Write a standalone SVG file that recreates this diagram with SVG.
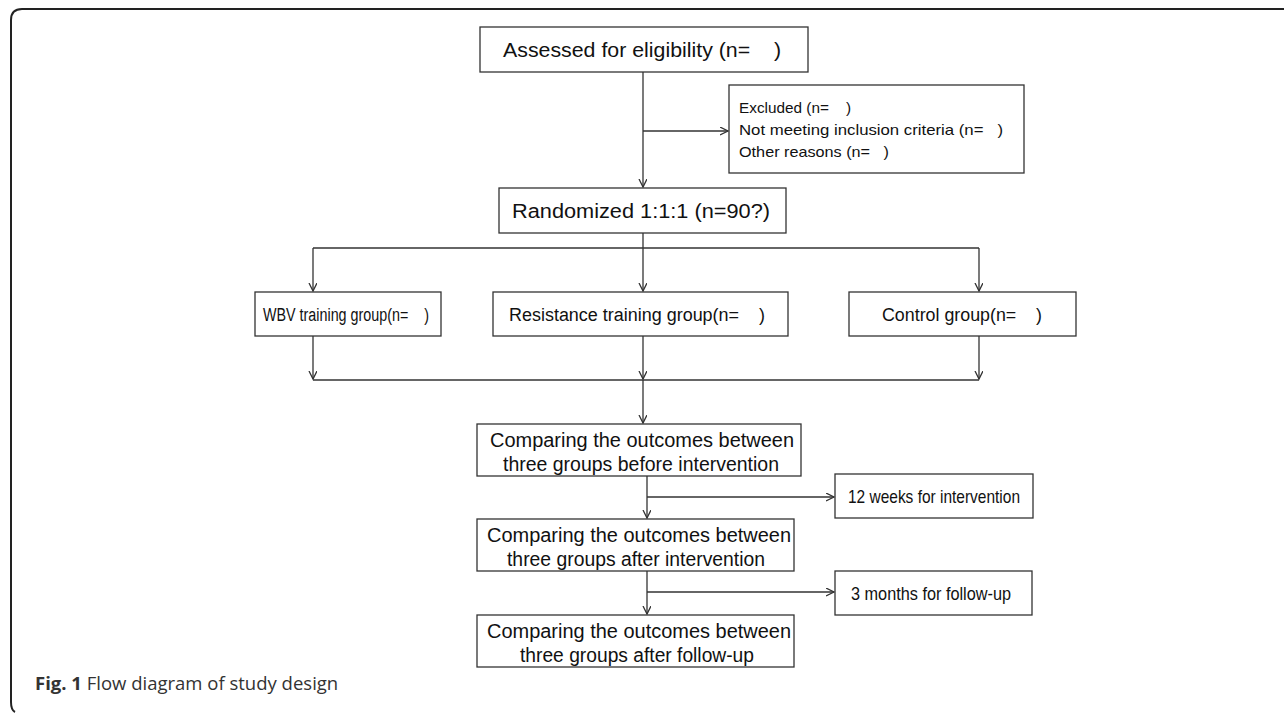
<svg xmlns="http://www.w3.org/2000/svg" width="1284" height="714" viewBox="0 0 1284 714">
<style>
.box{fill:#fff;stroke:#333;stroke-width:1.3}
.t{font-family:"Liberation Sans",Arial,sans-serif;fill:#111;text-anchor:middle}
.s{font-family:"Liberation Sans",Arial,sans-serif;fill:#111}
.c{fill:none;stroke:#333;stroke-width:1.3}
.frame{fill:none;stroke:#222;stroke-width:2}
.cap{font-family:"Open Sans","Noto Sans",sans-serif;fill:#333}
</style>
<defs>
<marker id="ah" markerWidth="10" markerHeight="10" refX="8" refY="4" orient="auto" markerUnits="userSpaceOnUse">
<path d="M0,0 L8,4 L0,8" fill="none" stroke="#333" stroke-width="1.3"/>
</marker>
</defs>
<rect width="1284" height="714" fill="#fff"/>
<path class="frame" d="M1284,9 H22 Q11,9 11,20 V702 Q11,710 15,712"/>
<g id="connectors">
<path class="c" d="M643,72 V187" marker-end="url(#ah)"/>
<path class="c" d="M643,131 H728" marker-end="url(#ah)"/>
<path class="c" d="M643,233 V291" marker-end="url(#ah)"/>
<path class="c" d="M313,248 H979"/>
<path class="c" d="M313,248 V291" marker-end="url(#ah)"/>
<path class="c" d="M979,248 V291" marker-end="url(#ah)"/>
<path class="c" d="M313,336 V379" marker-end="url(#ah)"/>
<path class="c" d="M643,336 V379" marker-end="url(#ah)"/>
<path class="c" d="M979,336 V379" marker-end="url(#ah)"/>
<path class="c" d="M313,380 H979"/>
<path class="c" d="M643,380 V423" marker-end="url(#ah)"/>
<path class="c" d="M647,476 V518" marker-end="url(#ah)"/>
<path class="c" d="M647,497 H834" marker-end="url(#ah)"/>
<path class="c" d="M647,571 V614" marker-end="url(#ah)"/>
<path class="c" d="M647,592 H834" marker-end="url(#ah)"/>
</g>
<g id="assessed">
<rect class="box" x="480" y="27" width="328" height="45"/>
<text class="t" x="642" y="57" xml:space="preserve" style="font-size:20px" textLength="278" lengthAdjust="spacingAndGlyphs">Assessed for eligibility (n=    )</text>
</g>
<g id="excluded">
<rect class="box" x="729" y="85" width="295" height="88"/>
<text class="s" x="739" y="113" xml:space="preserve" style="font-size:15px" textLength="112" lengthAdjust="spacingAndGlyphs">Excluded (n=    )</text>
<text class="s" x="739" y="135" xml:space="preserve" style="font-size:15px" textLength="264" lengthAdjust="spacingAndGlyphs">Not meeting inclusion criteria (n=   )</text>
<text class="s" x="739" y="157" xml:space="preserve" style="font-size:15px" textLength="150" lengthAdjust="spacingAndGlyphs">Other reasons (n=   )</text>
</g>
<g id="randomized">
<rect class="box" x="499" y="188" width="287" height="45"/>
<text class="t" x="641" y="218" style="font-size:20px" textLength="258" lengthAdjust="spacingAndGlyphs">Randomized 1:1:1 (n=90?)</text>
</g>
<g id="wbv">
<rect class="box" x="255" y="292" width="186" height="44"/>
<text class="t" x="346" y="321" xml:space="preserve" style="font-size:18px" textLength="166" lengthAdjust="spacingAndGlyphs">WBV training group(n=    )</text>
</g>
<g id="resistance">
<rect class="box" x="493" y="292" width="295" height="44"/>
<text class="t" x="637" y="321" xml:space="preserve" style="font-size:18px" textLength="256" lengthAdjust="spacingAndGlyphs">Resistance training group(n=    )</text>
</g>
<g id="control">
<rect class="box" x="849" y="292" width="227" height="44"/>
<text class="t" x="962" y="321" xml:space="preserve" style="font-size:18px" textLength="160" lengthAdjust="spacingAndGlyphs">Control group(n=    )</text>
</g>
<g id="before">
<rect class="box" x="477" y="424" width="324" height="52"/>
<text class="t" x="642" y="447" style="font-size:20px" textLength="304" lengthAdjust="spacingAndGlyphs">Comparing the outcomes between</text>
<text class="t" x="641" y="471" style="font-size:20px" textLength="276" lengthAdjust="spacingAndGlyphs">three groups before intervention</text>
</g>
<g id="weeks">
<rect class="box" x="835" y="474" width="198" height="44"/>
<text class="t" x="934" y="503" style="font-size:19px" textLength="172" lengthAdjust="spacingAndGlyphs">12 weeks for intervention</text>
</g>
<g id="after">
<rect class="box" x="477" y="519" width="317" height="52"/>
<text class="t" x="639" y="542" style="font-size:20px" textLength="304" lengthAdjust="spacingAndGlyphs">Comparing the outcomes between</text>
<text class="t" x="636" y="566" style="font-size:20px" textLength="258" lengthAdjust="spacingAndGlyphs">three groups after intervention</text>
</g>
<g id="months">
<rect class="box" x="835" y="571" width="197" height="44"/>
<text class="t" x="931" y="600" style="font-size:19px" textLength="160" lengthAdjust="spacingAndGlyphs">3 months for follow-up</text>
</g>
<g id="followup">
<rect class="box" x="477" y="615" width="317" height="52"/>
<text class="t" x="639" y="638" style="font-size:20px" textLength="304" lengthAdjust="spacingAndGlyphs">Comparing the outcomes between</text>
<text class="t" x="637" y="662" style="font-size:20px" textLength="234" lengthAdjust="spacingAndGlyphs">three groups after follow-up</text>
</g>
<text class="cap" x="35" y="690" style="font-size:18.5px"><tspan font-weight="bold">Fig. 1</tspan> Flow diagram of study design</text>
</svg>
